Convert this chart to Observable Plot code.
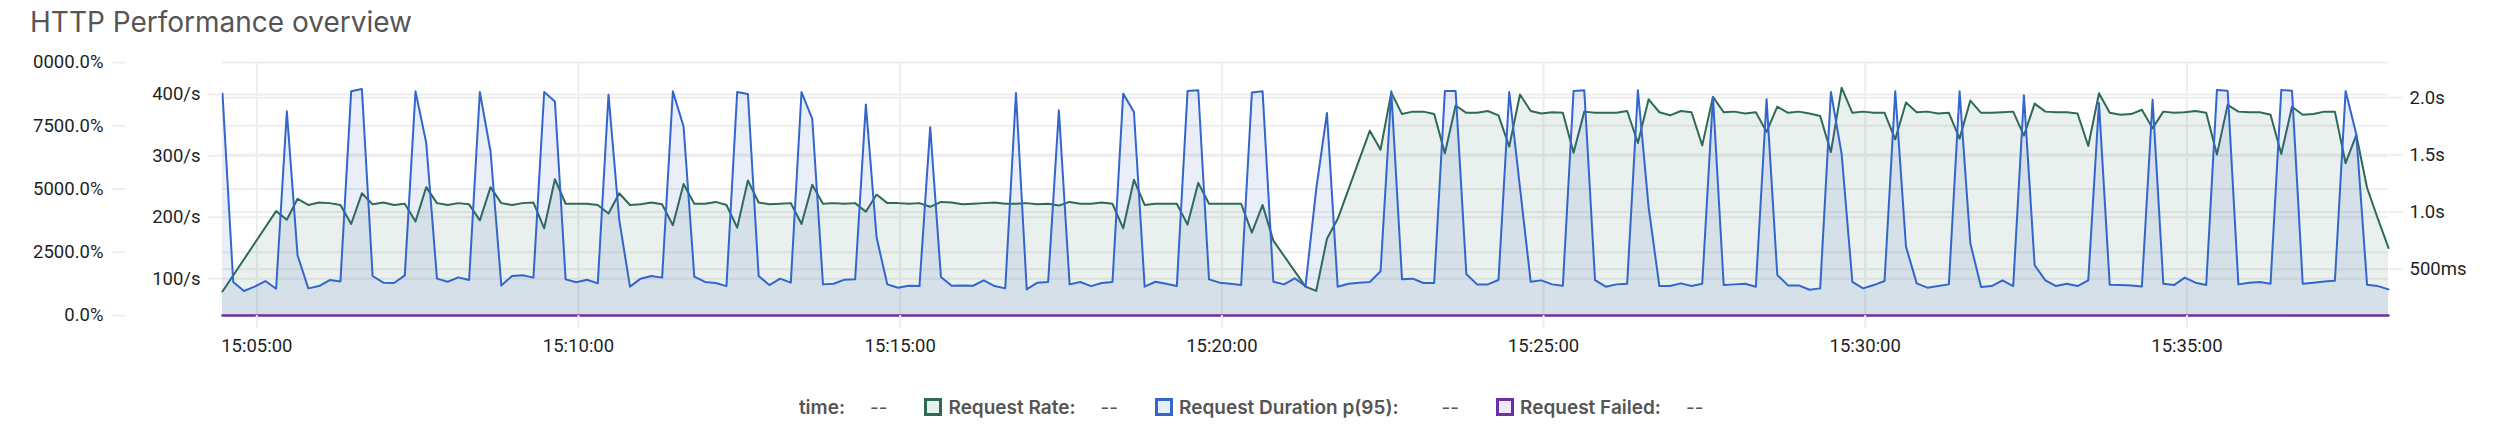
<!DOCTYPE html>
<html>
<head>
<meta charset="utf-8">
<script src="https://cdn.jsdelivr.net/npm/d3@7"></script>
<script src="https://cdn.jsdelivr.net/npm/@observablehq/plot@0.6"></script>
<style>
  html, body { margin: 0; padding: 0; background: #fff; }
  body { width: 2500px; height: 447px; overflow: hidden; font-family: Inter, "Noto Sans", sans-serif; }
  #title { height: 48px; padding-left: 30px; font-size: 28px; line-height: 44px; color: #555; white-space: nowrap; }
  #chart { margin-left: 30px; width: 2470px; height: 322px; }
  #chart svg { display: block; overflow: hidden; max-width: none; }
  #legend { display: flex; justify-content: flex-start; align-items: center; padding-top: 25px; padding-left: 770px; height: 24px; font-size: 19px; color: #555; white-space: nowrap; }
  .item { display: flex; align-items: center; margin-right: 37px; }
  .item:last-child { margin-right: 0; }
  .swatch { width: 18px; height: 18px; box-sizing: border-box; border: 3px solid; margin-right: 6px; }
  .lab { font-weight: 600; }
  .val { margin-left: 25px; font-weight: 400; }
  .item.time .lab { min-width: 75px; text-align: right; }
  .item.duration .val { margin-left: 43px; }
</style>
</head>
<body>
<div id="title"></div>
<div id="chart"></div>
<div id="legend"></div>
<script>
// ---- data ----
const titleText = "HTTP Performance overview";
const startTime = "2024-01-01T15:04:28";
const stepSeconds = 10;
const xTickLabels = ["15:05:00", "15:10:00", "15:15:00", "15:20:00", "15:25:00", "15:30:00", "15:35:00"];
const rateTicks = [100, 200, 300, 400];          // req/s
const durationTicks = [500, 1000, 1500, 2000];   // ms
const failedTicks = [0, 25, 50, 75, 100];
const failedTickLabels = ["0.0%", "2500.0%", "5000.0%", "7500.0%", "0000.0%"];
const rateDomain = [40, 452];
const durationDomain = [96, 2307];
const failedDomain = [0, 100];
const seriesNames = ["Request Rate", "Request Duration p(95)", "Request Failed"];
const timeLabel = "time";
const emptyValue = "--";

// Request Rate (req/s), one value every 10 s; null = no sample (line spans the gap)
const requestRate = [
  79, null, null, null, null, 210, 196, 230, 220, 224, 223, 220, 189, 239, 221, 224, 220, 222, 193, 249,
  223, 220, 223, 221, 195, 249, 223, 220, 223, 224, 182, 262, 222, 222, 222, 220, 206, 239, 220, 221,
  224, 221, 187, 254, 222, 222, 225, 220, 183, 260, 224, 221, 222, 223, 189, 253, 222, 223, 222, 223,
  209, 237, 223, 223, 222, 223, 217, 225, 224, 221, 222, 223, 224, 222, 222, 223, 221, 222, 219, 225,
  222, 222, 224, 222, 182, 261, 220, 222, 222, 222, 188, 256, 222, 222, 222, 222, 175, 220, 162, null,
  null, 87, 80, 165, 197, null, null, 341, 310, 403, 368, 372, 372, 368, 304, 382, 370, 370, 373, 366,
  315, 400, 373, 369, 371, 370, 305, 372, 370, 370, 370, 373, 321, 392, 371, 366, 373, 371, 317, 396,
  371, 372, 369, 371, 339, 380, 370, 372, 369, 365, 306, 411, 370, 372, 370, 370, 327, 387, 371, 372,
  369, 370, 328, 390, 370, 370, 371, 372, 333, 385, 372, 371, 371, 369, 316, 402, 370, 367, 368, 375,
  345, 372, 370, 371, 373, 370, 302, 383, 372, 371, 371, 367, 303, 380, 367, 368, 372, 372, 288, 334,
  248, 198, 150
];

// Request Duration p(95) (ms)
const requestDuration = [
  2035, 389, 310, 348, 397, 330, 1880, 622, 333, 353, 406, 394, 2055, 2076, 441, 383, 380, 447, 2055, 1605,
  418, 391, 429, 406, 2049, 1529, 359, 441, 447, 427, 2049, 1967, 412, 386, 409, 377, 2026, 932, 348, 418,
  441, 427, 2055, 1748, 435, 389, 380, 353, 2049, 2032, 441, 362, 418, 383, 2049, 1815, 368, 374, 409, 412,
  1941, 777, 368, 339, 356, 353, 1742, 432, 356, 359, 356, 403, 353, 333, 2041, 324, 383, 389, 1889, 368,
  389, 353, 380, 389, 2035, 1874, 348, 391, 374, 353, 2058, 2064, 412, 383, 374, 362, 2044, 2055, 391, 368,
  421, 353, 1201, 1865, 348, 374, 383, 389, 482, 2055, 412, 418, 380, 380, 2058, 2058, 459, 368, 368, 406,
  2049, 1216, 391, 403, 368, 356, 2058, 2064, 406, 348, 368, 374, 2064, 1041, 353, 353, 377, 353, 374, 2005,
  362, 368, 374, 348, 1985, 450, 359, 359, 321, 333, 2049, 1508, 389, 333, 362, 397, 2055, 698, 377, 339,
  353, 368, 2055, 728, 345, 353, 403, 353, 2020, 535, 403, 353, 374, 353, 403, 1953, 365, 362, 359, 350,
  1982, 374, 362, 427, 383, 362, 2067, 2061, 368, 383, 389, 374, 2067, 2061, 374, 383, 394, 400, 2058, 1678,
  365, 353, 324
];

// Request Failed (rate)
const requestFailed = [
  0, 0, 0, 0, 0, 0, 0, 0, 0, 0, 0, 0, 0, 0, 0, 0, 0, 0, 0, 0,
  0, 0, 0, 0, 0, 0, 0, 0, 0, 0, 0, 0, 0, 0, 0, 0, 0, 0, 0, 0,
  0, 0, 0, 0, 0, 0, 0, 0, 0, 0, 0, 0, 0, 0, 0, 0, 0, 0, 0, 0,
  0, 0, 0, 0, 0, 0, 0, 0, 0, 0, 0, 0, 0, 0, 0, 0, 0, 0, 0, 0,
  0, 0, 0, 0, 0, 0, 0, 0, 0, 0, 0, 0, 0, 0, 0, 0, 0, 0, 0, 0,
  0, 0, 0, 0, 0, 0, 0, 0, 0, 0, 0, 0, 0, 0, 0, 0, 0, 0, 0, 0,
  0, 0, 0, 0, 0, 0, 0, 0, 0, 0, 0, 0, 0, 0, 0, 0, 0, 0, 0, 0,
  0, 0, 0, 0, 0, 0, 0, 0, 0, 0, 0, 0, 0, 0, 0, 0, 0, 0, 0, 0,
  0, 0, 0, 0, 0, 0, 0, 0, 0, 0, 0, 0, 0, 0, 0, 0, 0, 0, 0, 0,
  0, 0, 0, 0, 0, 0, 0, 0, 0, 0, 0, 0, 0, 0, 0, 0, 0, 0, 0, 0,
  0, 0, 0
];

// ---- styles ----
const colors = { rate: "#2d6a57", duration: "#3366cc", failed: "#6b2fa6" };
const fills = { rate: "#e8f0ec", duration: "#e8eefa", failed: "#efe8f6" };
const gridColor = "#eeeeee";
const textColor = "#1f1f1f";

// ---- build ----
document.getElementById("title").textContent = titleText;

const t0 = new Date(startTime);
const times = requestDuration.map((_, i) => new Date(+t0 + i * stepSeconds * 1000));
const durToY = d3.scaleLinear(durationDomain, rateDomain);
const failToY = d3.scaleLinear(failedDomain, rateDomain);

const rows = times.map((t, i) => ({
  t,
  rate: requestRate[i],
  dur: durToY(requestDuration[i]),
  fail: failToY(requestFailed[i])
}));
const rateRows = rows.filter(d => d.rate != null);
const base = () => rateDomain[0];

const tickDates = xTickLabels.map(s => new Date(startTime.slice(0, 11) + s));
const failedTickPos = failedTicks.map(failToY);
const pctLabel = new Map(failedTickPos.map((v, i) => [v, failedTickLabels[i]]));
const fmtDur = v => {
  const ms = Math.round(durToY.invert(v));
  return ms >= 1000 ? (ms / 1000).toFixed(1) + "s" : ms + "ms";
};

const chart = Plot.plot({
  width: 2470,
  height: 322,
  marginLeft: 192,
  marginRight: 112,
  marginTop: 14,
  marginBottom: 55,
  x: { type: "time", domain: [times[0], times[times.length - 1]] },
  y: { domain: rateDomain },
  style: { fontFamily: "Roboto, 'Liberation Sans', sans-serif", fontSize: "18.5px", color: textColor, background: "transparent", overflow: "hidden" },
  marks: [
    Plot.gridY([...failedTickPos, ...rateTicks, ...durationTicks.map(durToY)], { stroke: gridColor, strokeOpacity: 1, strokeWidth: 2 }),
    Plot.gridX(tickDates, { stroke: gridColor, strokeOpacity: 1, strokeWidth: 2 }),
    Plot.areaY(rateRows, { x: "t", y1: base, y2: "rate", fill: colors.rate, fillOpacity: 0.1 }),
    Plot.lineY(rateRows, { x: "t", y: "rate", stroke: colors.rate, strokeWidth: 2 }),
    Plot.areaY(rows, { x: "t", y1: base, y2: "dur", fill: colors.duration, fillOpacity: 0.11 }),
    Plot.lineY(rows, { x: "t", y: "dur", stroke: colors.duration, strokeWidth: 2 }),
    Plot.lineY(rows, { x: "t", y: "fail", stroke: colors.failed, strokeWidth: 2.5 }),
    Plot.axisX(tickDates, { tickSize: 13, tickPadding: 10, stroke: gridColor, strokeWidth: 2, fill: textColor, tickFormat: d3.timeFormat("%H:%M:%S"), label: null }),
    Plot.axisY(failedTickPos, { anchor: "left", tickSize: 13, tickPadding: 9, dx: -97, stroke: gridColor, strokeWidth: 2, fill: textColor, tickFormat: v => pctLabel.get(v), label: null }),
    Plot.axisY(rateTicks, { anchor: "left", tickSize: 14, tickPadding: 8, stroke: gridColor, strokeWidth: 2, fill: textColor, tickFormat: v => v + "/s", label: null }),
    Plot.axisY(durationTicks.map(durToY), { anchor: "right", tickSize: 14, tickPadding: 7, stroke: gridColor, strokeWidth: 2, fill: textColor, tickFormat: fmtDur, label: null })
  ]
});
document.getElementById("chart").appendChild(chart);

// ---- legend ----
const legend = document.getElementById("legend");
function addItem(name, key) {
  const item = document.createElement("div");
  item.className = key ? "item " + key : "item time";
  if (key) {
    const sw = document.createElement("span");
    sw.className = "swatch";
    sw.style.borderColor = colors[key];
    sw.style.background = fills[key];
    item.appendChild(sw);
  }
  const lab = document.createElement("span");
  lab.className = "lab";
  lab.textContent = name + ":";
  const val = document.createElement("span");
  val.className = "val";
  val.textContent = emptyValue;
  item.appendChild(lab);
  item.appendChild(val);
  legend.appendChild(item);
}
addItem(timeLabel, null);
addItem(seriesNames[0], "rate");
addItem(seriesNames[1], "duration");
addItem(seriesNames[2], "failed");
</script>
</body>
</html>
